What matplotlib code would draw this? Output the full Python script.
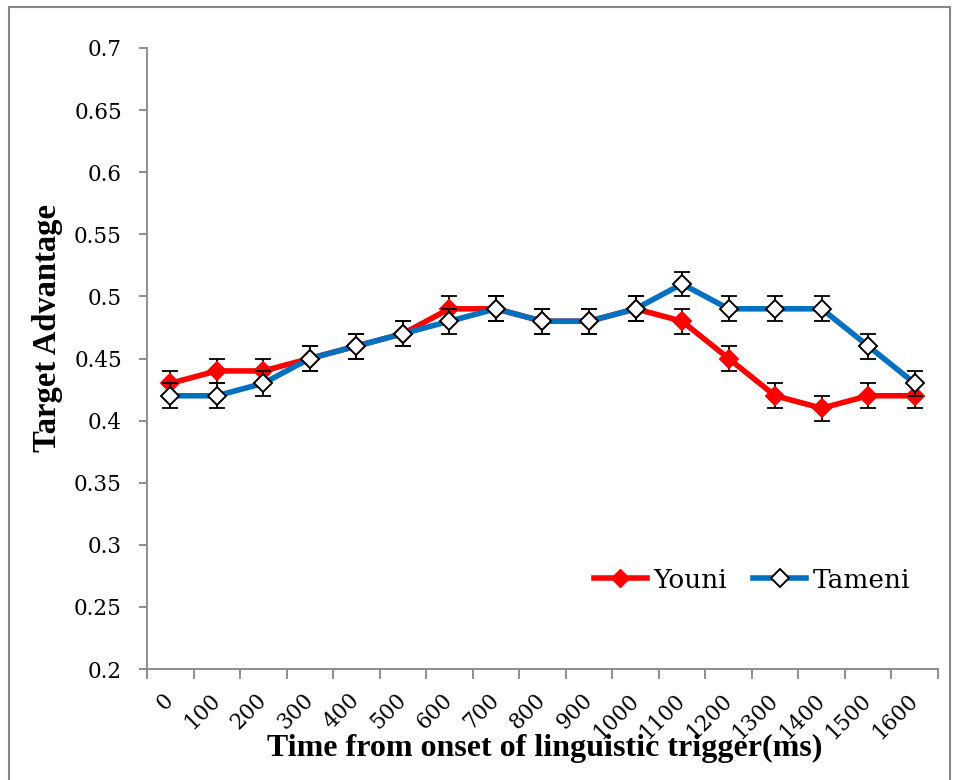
#!/usr/bin/env python3
"""Target advantage over time for Youni vs Tameni, with error bars."""
import matplotlib
matplotlib.use("Agg")
import matplotlib.pyplot as plt
from matplotlib.patches import Rectangle
from matplotlib.lines import Line2D
import numpy as np

times = [0, 100, 200, 300, 400, 500, 600, 700, 800, 900, 1000,
         1100, 1200, 1300, 1400, 1500, 1600]
youni = [0.43, 0.44, 0.44, 0.45, 0.46, 0.47, 0.49, 0.49, 0.48, 0.48, 0.49,
         0.48, 0.45, 0.42, 0.41, 0.42, 0.42]
tameni = [0.42, 0.42, 0.43, 0.45, 0.46, 0.47, 0.48, 0.49, 0.48, 0.48, 0.49,
          0.51, 0.49, 0.49, 0.49, 0.46, 0.43]
err = 0.01
yticks = [0.2, 0.25, 0.3, 0.35, 0.4, 0.45, 0.5, 0.55, 0.6, 0.65, 0.7]

RED = "#FF0000"
BLUE = "#0070C0"
GRAY = "#868686"
TICK_FONT = "DejaVu Serif"
LABEL_FONT = "Liberation Serif"

fig = plt.figure(figsize=(9.54, 7.8), dpi=100)
fig.patches.append(Rectangle((9 / 954, -0.01), 941 / 954, 1 - 7 / 780 + 0.01,
                             transform=fig.transFigure, fill=False,
                             edgecolor=GRAY, linewidth=1.5))
ax = fig.add_axes([147 / 954, 1 - 669 / 780, 791 / 954, (669 - 48) / 780])

x = np.arange(len(times))
for vals, color, face, z in [(youni, RED, RED, 3), (tameni, BLUE, "white", 5)]:
    ax.errorbar(x, vals, yerr=err, fmt="none", ecolor="black", elinewidth=1.3,
                capsize=5.5, capthick=1.3, zorder=z)
    ax.plot(x, vals, color=color, linewidth=4, marker="D", markersize=9.5,
            markerfacecolor=face, markeredgecolor="black" if face == "white" else color,
            markeredgewidth=1.4, zorder=z + 1)

ax.set_xlim(-0.5, len(times) - 0.5)
ax.set_ylim(0.2, 0.7)
ax.set_yticks(yticks)
ax.set_yticklabels([f"{v:g}" for v in yticks], fontfamily=TICK_FONT, fontsize=15.5)
ax.tick_params(axis="y", direction="out", length=6, color=GRAY, width=1.3, pad=12)

ax.set_xticks(x)
ax.set_xticklabels([str(t) for t in times], fontfamily=TICK_FONT, fontsize=15.5,
                   rotation=45, ha="right", va="center", rotation_mode="anchor")
ax.tick_params(axis="x", which="major", length=0, pad=20)
ax.set_xticks(np.arange(len(times) + 1) - 0.5, minor=True)
ax.tick_params(axis="x", which="minor", direction="out", length=7, color=GRAY, width=1.3)

for side in ["top", "right"]:
    ax.spines[side].set_visible(False)
for side in ["left", "bottom"]:
    ax.spines[side].set_color(GRAY)
    ax.spines[side].set_linewidth(1.3)

fig.text(545 / 954, 1 - 748 / 780, "Time from onset of linguistic trigger(ms)",
         ha="center", va="center", fontfamily=LABEL_FONT, fontweight="bold", fontsize=23)
fig.text(48 / 954, 1 - 328 / 780, "Target Advantage", rotation=90,
         ha="center", va="center", fontfamily=LABEL_FONT, fontweight="bold", fontsize=23.5)

handles = [
    Line2D([], [], color=RED, linewidth=4, marker="D", markersize=9.5,
           markerfacecolor=RED, markeredgecolor=RED),
    Line2D([], [], color=BLUE, linewidth=4, marker="D", markersize=9.5,
           markerfacecolor="white", markeredgecolor="black", markeredgewidth=1.4),
]
ax.legend(handles, ["Youni", "Tameni"], loc="center", bbox_to_anchor=(0.765, 0.143),
          ncol=2, frameon=False, prop={"family": TICK_FONT, "size": 19},
          handlelength=2.0, handletextpad=0.25, columnspacing=1.0)

fig.savefig("out.png", dpi=100)
